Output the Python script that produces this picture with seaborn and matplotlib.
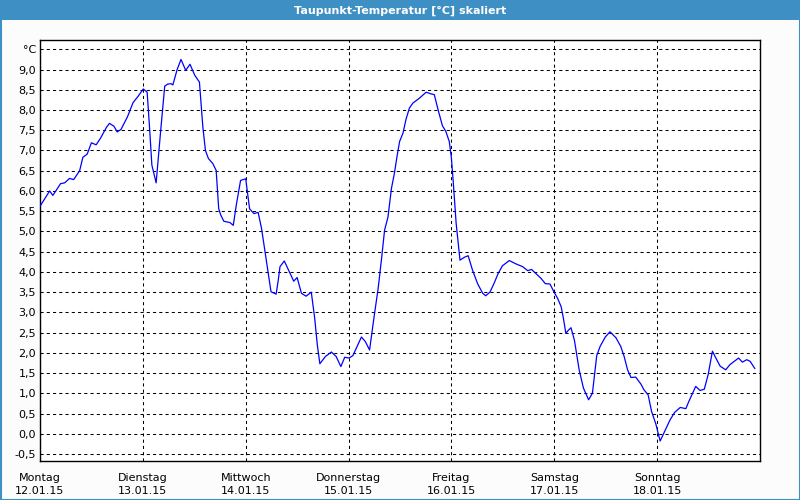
import matplotlib
matplotlib.use("Agg")
import matplotlib.pyplot as plt
from matplotlib.patches import Rectangle
import seaborn as sns
import pandas as pd

# ---- data (hours since 12.01.15 00:00, dew point in °C) ----
hours = [0.0, 2.25, 3.0, 4.8, 5.75, 6.9, 7.85, 9.25, 10.0, 11.0, 12.0, 13.1, 14.1, 15.5, 16.2,
         17.25, 18.0, 18.9, 20.4, 21.7, 22.9, 24.1, 25.0, 25.6, 26.1, 27.1, 28.1, 29.1, 29.8,
         30.6, 31.0, 32.0, 32.9, 34.0, 35.0, 36.1, 37.2, 38.0, 38.6, 39.3, 40.3, 41.1,
         41.7, 42.2, 42.9, 44.3, 45.1, 45.8, 46.8, 48.0, 48.9, 49.9, 50.9, 51.7, 52.9, 53.9,
         55.1, 55.6, 56.0, 57.0, 58.1, 59.2, 60.0, 61.0, 62.1, 63.3, 64.1, 64.7, 65.3, 66.6,
         68.0, 69.1, 70.2, 71.1, 72.1, 73.0, 74.0, 75.0, 75.9, 76.9, 77.9, 78.9, 79.7, 80.4,
         81.2, 82.0, 82.7, 83.3, 83.9, 84.7, 85.4, 86.2, 87.0, 88.5, 90.1, 91.2, 92.0, 92.9,
         93.9, 94.7, 95.5, 96.0, 96.5, 97.1, 97.6, 98.0, 99.0, 99.9, 100.9, 102.1, 103.3,
         104.0, 105.0, 106.0, 106.9, 107.9, 109.5, 111.0, 112.6, 113.8, 114.7, 115.7, 116.9,
         117.9, 119.0, 119.9, 120.8, 121.6, 122.1, 122.7, 123.3, 123.9, 124.7, 125.8, 126.8,
         128.0, 128.9, 129.9, 130.7, 131.9, 133.0, 134.4, 135.5, 136.3, 137.1, 137.9, 139.0,
         140.2, 140.9, 141.9, 142.7, 143.7, 144.7, 145.8, 147.0, 148.1, 149.4, 150.7, 151.4,
         152.5, 153.0, 154.0, 155.0, 155.9, 156.9, 157.7, 158.7, 160.0, 161.0, 162.0, 163.0,
         163.9, 164.9, 165.7, 166.8]
dewpoint = [5.62, 6.0, 5.89, 6.18, 6.2, 6.31, 6.28, 6.5, 6.83, 6.91, 7.19, 7.14, 7.3, 7.57, 7.67,
            7.6, 7.46, 7.52, 7.83, 8.18, 8.34, 8.52, 8.44, 7.5, 6.64, 6.2, 7.42, 8.59, 8.64,
            8.65, 8.62, 9.0, 9.25, 8.98, 9.13, 8.86, 8.69, 7.58, 7.0, 6.8, 6.68, 6.51,
            5.56, 5.4, 5.25, 5.22, 5.15, 5.65, 6.26, 6.3, 5.56, 5.44, 5.47, 5.07, 4.21, 3.51,
            3.45, 3.8, 4.13, 4.27, 4.02, 3.77, 3.86, 3.47, 3.4, 3.5, 2.85, 2.2, 1.73, 1.91,
            2.02, 1.91, 1.66, 1.89, 1.87, 1.93, 2.16, 2.39, 2.28, 2.07, 2.85, 3.59, 4.33, 5.03,
            5.36, 6.06, 6.44, 6.85, 7.22, 7.43, 7.77, 8.05, 8.17, 8.29, 8.44, 8.4, 8.38, 8.0,
            7.61, 7.47, 7.22, 6.81, 6.11, 5.2, 4.7, 4.29, 4.36, 4.4, 4.05, 3.71, 3.47,
            3.41, 3.5, 3.73, 3.96, 4.15, 4.28, 4.2, 4.13, 4.03, 4.06, 3.96, 3.84,
            3.71, 3.7, 3.51, 3.34, 3.14, 2.87, 2.48, 2.56, 2.62, 2.31, 1.58, 1.13,
            0.84, 1.0, 1.93, 2.16, 2.39, 2.52, 2.37, 2.16, 1.91, 1.58, 1.39, 1.4,
            1.23, 1.09, 0.96, 0.55, 0.24, -0.18, 0.07, 0.34, 0.53, 0.65, 0.62, 0.8,
            1.05, 1.17, 1.07, 1.1, 1.46, 2.04, 1.87, 1.67, 1.58, 1.71, 1.79, 1.87,
            1.77, 1.83, 1.79, 1.61]

day_names = ["Montag", "Dienstag", "Mittwoch", "Donnerstag", "Freitag", "Samstag", "Sonntag"]
day_dates = ["12.01.15", "13.01.15", "14.01.15", "15.01.15", "16.01.15", "17.01.15", "18.01.15"]
day_ticks = [0, 24, 48, 72, 96, 120, 144]
y_ticks = [-0.5, 0.0, 0.5, 1.0, 1.5, 2.0, 2.5, 3.0, 3.5, 4.0, 4.5, 5.0, 5.5, 6.0, 6.5,
           7.0, 7.5, 8.0, 8.5, 9.0, 9.5]
y_labels = ["-0,5", "0,0", "0,5", "1,0", "1,5", "2,0", "2,5", "3,0", "3,5", "4,0", "4,5",
            "5,0", "5,5", "6,0", "6,5", "7,0", "7,5", "8,0", "8,5", "9,0", "°C"]
title = "Taupunkt-Temperatur [°C] skaliert"

sns.set_theme(style="white")
plt.rcParams['font.family'] = ['DejaVu Sans']

df = pd.DataFrame({"h": hours, "v": dewpoint})

fig = plt.figure(figsize=(8, 5), dpi=100)
fig.patch.set_facecolor('#FBFCFB')
bar_blue = '#3D8FC4'
fig.add_artist(Rectangle((0, 1 - 20 / 500), 1, 20 / 500, transform=fig.transFigure,
                         facecolor=bar_blue, edgecolor='none', zorder=0))
fig.add_artist(Rectangle((0.5 / 800, 0.5 / 500), 1 - 1 / 800, 1 - 1 / 500, transform=fig.transFigure,
                         fill=False, edgecolor=bar_blue, lw=1.5, zorder=0))
fig.text(0.5, 1 - 10.5 / 500, title, color='white', weight='bold', ha='center', va='center',
         fontsize=8)

ax = fig.add_axes([40 / 800, 1 - 460.7 / 500, 720 / 800, 420.7 / 500])
ax.set_facecolor('white')
sns.lineplot(data=df, x="h", y="v", ax=ax, color='#0000FF', lw=0.9, zorder=3)

ax.set_xlim(0, 168)
ax.set_ylim(-0.666, 9.73)
ax.set_yticks(y_ticks)
ax.set_yticklabels(y_labels)
ax.set_xticks(day_ticks)
ax.set_xticklabels([f"{n}\n{d}" for n, d in zip(day_names, day_dates)], linespacing=1.35)
ax.set_xlabel("")
ax.set_ylabel("")

ax.grid(True, color='black', linestyle=(0, (3, 3)), lw=0.75)
for s in ax.spines.values():
    s.set_color('black')
    s.set_linewidth(1.0)
ax.tick_params(axis='y', length=0, pad=3, labelsize=8, colors='black')
ax.tick_params(axis='x', length=4, width=0.8, pad=5, labelsize=8, colors='black')

fig.savefig("out.png", dpi=100, facecolor=fig.get_facecolor())
